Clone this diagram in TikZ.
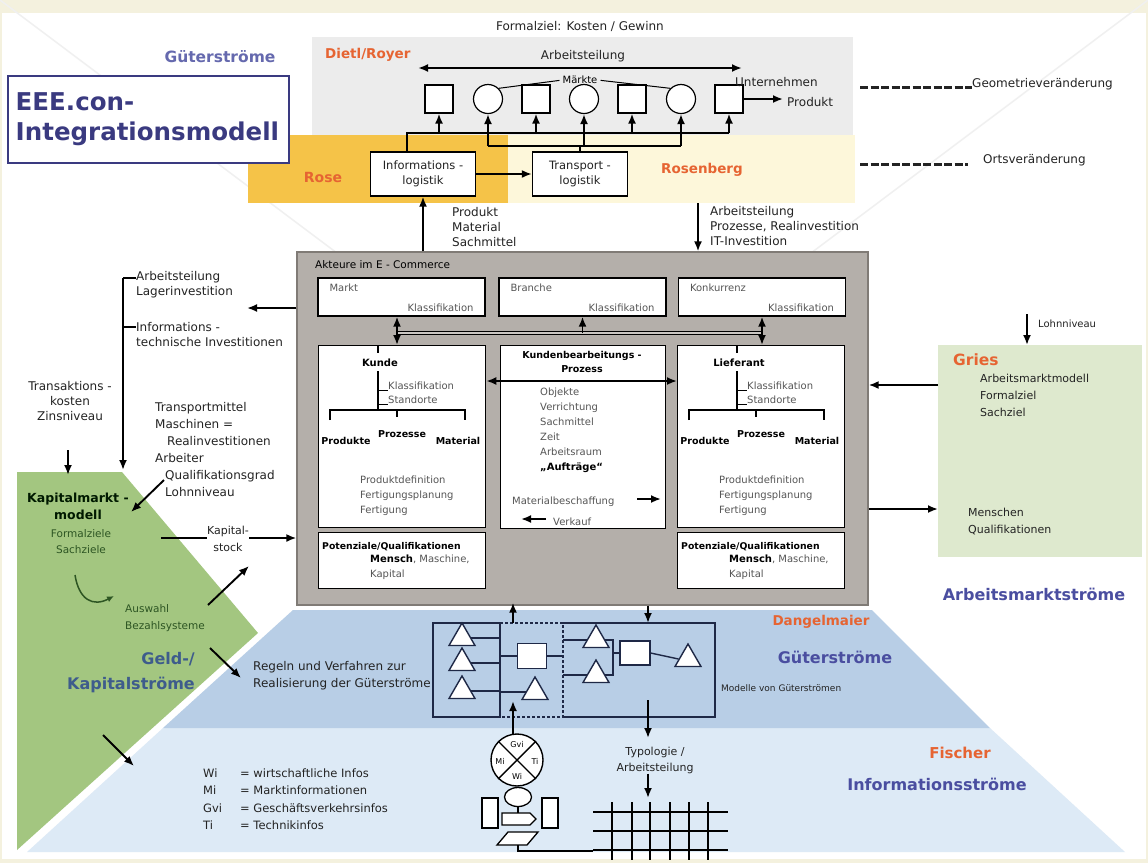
\documentclass[tikz,border=0pt]{standalone}
\usepackage{fontspec}
\setmainfont{DejaVu Sans}
\usetikzlibrary{arrows.meta,positioning,shapes.geometric}
\definecolor{eeecream}{RGB}{244,241,222}
\definecolor{eeegray}{RGB}{236,236,236}
\definecolor{eeeorange}{RGB}{245,195,72}
\definecolor{eeeyellow}{RGB}{253,247,218}
\definecolor{eeebox}{RGB}{180,175,170}
\definecolor{eeeboxline}{RGB}{128,123,118}
\definecolor{eeegreen}{RGB}{163,198,128}
\definecolor{eeelightgreen}{RGB}{222,233,206}
\definecolor{eeeblue}{RGB}{184,206,230}
\definecolor{eeelightblue}{RGB}{221,234,246}
\definecolor{eeestrom}{RGB}{74,78,160}
\definecolor{eeetitle}{RGB}{58,58,128}
\definecolor{eeeautor}{RGB}{230,100,50}
\definecolor{eeegeld}{RGB}{62,92,140}
\definecolor{eeeink}{RGB}{35,35,35}
\definecolor{eeesoft}{RGB}{85,85,85}
\definecolor{eeedark}{RGB}{45,85,35}
\definecolor{eeenavy}{RGB}{30,40,70}

\begin{document}
\begin{tikzpicture}[x=1pt,y=-1pt,
  lbl/.style={font=\fontsize{12}{15}\selectfont,text=eeeink,inner sep=0pt,align=left},
  sml/.style={font=\fontsize{10}{15}\selectfont,text=eeesoft,inner sep=0pt,align=left},
  smb/.style={font=\fontsize{9.5}{14}\selectfont\bfseries,text=black,inner sep=0pt,align=center},
  autor/.style={font=\fontsize{13.5}{16}\selectfont\bfseries,text=eeeautor,inner sep=0pt},
  strom/.style={font=\fontsize{16}{19}\selectfont\bfseries,text=eeestrom,inner sep=0pt},
  wbox/.style={draw=black,line width=1.3pt,fill=white,inner sep=0pt},
  flow/.style={-{Latex[length=10pt,width=8pt]},line width=1.9pt},
  flowtwo/.style={{Latex[length=10pt,width=8pt]}-{Latex[length=10pt,width=8pt]},line width=1.9pt},
  sq/.style={draw,line width=1.2pt,fill=white,minimum size=28pt,inner sep=0pt},
  rnd/.style={draw,circle,line width=1.2pt,fill=white,minimum size=29pt,inner sep=0pt},
  tri/.style={draw=eeenavy,regular polygon,regular polygon sides=3,line width=1.4pt,fill=white,minimum size=30pt,inner sep=0pt},
  sepline/.style={line width=3pt,dash pattern=on 8pt off 2.5pt,eeeink}]
  \useasboundingbox (0,0) rectangle (1148,863);
  % Rahmen
  \fill[eeecream] (0,0) rectangle (1148,863);
  \fill[white] (2,13) rectangle (1146,859);
  \draw[gray!12,line width=1.5pt] (0,0) -- (574,431) -- (1148,0);
  % Flaechen
  \fill[eeegray] (312,37) rectangle (853,135);
  \fill[eeeorange] (248,135) rectangle (508,203);
  \fill[eeeyellow] (508,135) rectangle (855,203);
  \fill[eeelightblue] (163,728) -- (990,728) -- (1125,852) -- (27,852) -- cycle;
  \fill[eeeblue] (293,610) -- (872,610) -- (990,728) -- (163,728) -- cycle;
  \fill[eeegreen] (17,472) -- (122,472) -- (258,633) -- (17,850) -- cycle;
  \fill[eeelightgreen] (938,345) rectangle (1142,557);
  \node[minimum width=204pt,minimum height=212pt,anchor=north west,inner sep=0pt] (gries) at (938,345) {};

  % Titel
  \node[strom,font=\fontsize{15.5}{18}\selectfont\bfseries,text=eeestrom!85!white] (gtop) at (220,57) {Güterströme};
  \node[draw=eeetitle,line width=1.5pt,fill=white,text width=265pt,minimum height=87pt,inner sep=8pt,
        anchor=north west,align=left,font=\fontsize{24.5}{30}\selectfont\bfseries,text=eeetitle] (titel) at (7,75)
        {EEE.con-\\Integrationsmodell};

  % Dietl/Royer
  \node[lbl] (ziel) at (580,26) {Formalziel: Kosten / Gewinn};
  \node[autor,anchor=west] (dietl) at (325,55) {Dietl/Royer};
  \node[lbl] (teilung) at (583,56) {Arbeitsteilung};
  \coordinate (tl) at (418,68);
  \coordinate (tr) at (742,68);
  \draw[flowtwo,line width=2.2pt] (tl) -- (tr);
  \node[sml,text=black] (maerkte) at (580,80) {Märkte};
  \foreach \n/\x in {1/439,3/536,5/632,7/729}
    \node[sq] (s\n) at (\x,99) {};
  \foreach \n/\x in {2/488,4/584,6/681}
    \node[rnd] (s\n) at (\x,99) {};
  \draw[line width=1pt,shorten >=3pt] (s2.north east) -- (maerkte.west);
  \draw[line width=1pt,shorten <=3pt] (maerkte.east) -- (s6.north west);
  \node[lbl,anchor=west] (unt) at (735,82) {Unternehmen};
  \node[lbl,anchor=west] (produkt) at (787,102) {Produkt};
  \draw[flow,shorten >=4pt] (s7.east) -- (s7.east -| produkt.west);

  % Rose / Rosenberg
  \node[autor,font=\fontsize{14}{16}\selectfont\bfseries] (rose) at (323,177) {Rose};
  \node[autor] (rosenberg) at (702,170) {Rosenberg};
  \node[wbox,minimum width=105pt,minimum height=44pt,align=center,font=\fontsize{11.5}{15}\selectfont,text=eeeink] (info) at (423,174) {Informations -\\logistik};
  \node[wbox,minimum width=95pt,minimum height=44pt,align=center,font=\fontsize{11.5}{15}\selectfont,text=eeeink] (trans) at (580,174) {Transport -\\logistik};
  \draw[flow] (info) -- (trans);
  \coordinate (ib) at (407,133);
  \coordinate (tb) at (488,146);
  \draw[line width=1.8pt] (info.north -| ib) -- (ib) -- (s7 |- ib);
  \draw[line width=1.8pt] (s2 |- tb) -- (s6 |- tb);
  \draw[line width=1.8pt] (trans.north) -- (trans.north |- tb);
  \foreach \n in {1,3,5,7}
    \draw[flow] (s\n |- ib) -- (s\n.south);
  \foreach \n in {2,4,6}
    \draw[flow] (s\n |- tb) -- (s\n.south);

  % Trennlinien rechts
  \node[lbl,anchor=west] (geo) at (972,84) {Geometrieveränderung};
  \node[lbl,anchor=west] (ort) at (983,160) {Ortsveränderung};
  \coordinate (geoa) at (860,87);
  \coordinate (orta) at (860,164);
  \draw[sepline] (geoa) -- (geo.west |- geoa);
  \draw[sepline] (orta) -- (968,164);

  % Akteure im E-Commerce
  \node[draw=eeeboxline,fill=eeebox,line width=1.3pt,minimum width=571pt,minimum height=353pt,inner sep=0pt] (akt) at (582.5,428.5) {};
  \node[sml,text=black,font=\fontsize{10.5}{12}\selectfont,anchor=west] (akttit) at (315,265) {Akteure im E - Commerce};
  \draw[flow] (info.south |- akt.north) -- (info.south);
  \coordinate (rb) at (698,203);
  \draw[flow] (rb) -- (rb |- akt.north);
  \node[lbl,anchor=west] (pms) at (452,227) {Produkt\\Material\\Sachmittel};
  \node[lbl,anchor=west] (apr) at (710,226) {Arbeitsteilung\\Prozesse, Realinvestition\\IT-Investition};

  % Markt, Branche, Konkurrenz
  \foreach \b/\x/\t in {markt/401.5/Markt,branche/582.5/Branche,konk/762/Konkurrenz} {
    \node[wbox,minimum width=167pt,minimum height=38pt] (\b) at (\x,297) {};
    \node[sml,anchor=north west] (\b-name) at ([shift={(12,6)}]\b.north west) {\t};
    \node[sml,anchor=south east] (\b-kl) at ([shift={(-12,-5)}]\b.south east) {Klassifikation};
  }
  \coordinate (bl) at (397,333);
  \coordinate (br) at (762,333);
  \draw[line width=1.1pt,double=eeebox!70!white,double distance=2pt] (bl) -- (br);

  % Kunde und Lieferant
  \foreach \b/\x/\t in {kunde/318/Kunde,lief/677/Lieferant} {
    \begin{scope}[shift={(\x,0)}]
      \node[wbox,anchor=north west,minimum width=167pt,minimum height=182pt] (\b) at (0,345) {};
      \node[smb,font=\fontsize{10}{12}\selectfont\bfseries] (\b-name) at (62,363) {\t};
      \draw[line width=1.2pt] (60,345) -- (60,353);
      \draw[line width=1.2pt] (60,371) -- (60,410);
      \draw[line width=1pt] (60,390) -- (70,390) (60,404) -- (70,404);
      \node[sml,anchor=base west] (\b-kl) at (70,389) {Klassifikation};
      \node[sml,anchor=base west] (\b-st) at (70,403) {Standorte};
      \draw[line width=1.6pt] (12,420) -- (12,410) -- (147,410) -- (147,420) (79,410) -- (79,417);
      \node[smb] (\b-pd) at (28,441) {Produkte};
      \node[smb] (\b-pz) at (84,434) {Prozesse};
      \node[smb] (\b-ma) at (140,441) {Material};
      \node[sml,anchor=north west] (\b-fe) at (42,476) {Produktdefinition\\Fertigungsplanung\\Fertigung};
      \node[wbox,anchor=north west,minimum width=167pt,minimum height=56pt] (\b-pot) at (0,532) {};
      \node[smb,font=\fontsize{9.3}{12}\selectfont\bfseries,anchor=base west] (\b-pq) at (4,549) {Potenziale/Qualifikationen};
      \node[sml,anchor=north west] (\b-mm) at (52,555) {\textbf{\color{black}Mensch}, Maschine,\\Kapital};
    \end{scope}
  }
  \draw[flow] (bl) -- (bl |- markt.south);
  \draw[flow] (bl) -- (bl |- kunde.north);
  \draw[flow] (bl -| branche) -- (branche.south);
  \draw[flow] (br) -- (br |- konk.south);
  \draw[flow] (br) -- (br |- lief.north);

  % Kundenbearbeitungsprozess
  \node[wbox,anchor=north west,minimum width=165pt,minimum height=183pt] (proz) at (500,345) {};
  \node[smb] (proztit) at (582,362) {Kundenbearbeitungs -\\Prozess};
  \coordinate (pa) at (0,381);
  \draw[flowtwo] (kunde.east |- pa) -- (lief.west |- pa);
  \node[sml,anchor=north west] (prozlist) at (540,388)
    {Objekte\\Verrichtung\\Sachmittel\\Zeit\\Arbeitsraum\\\textbf{\color{black}„Aufträge“}};
  \node[sml,anchor=west] (mb) at (512,502) {Materialbeschaffung};
  \node[sml,anchor=west] (vk) at (553,522) {Verkauf};
  \coordinate (mr1) at (637,499);
  \coordinate (mr2) at (661,499);
  \coordinate (vl1) at (546,519);
  \coordinate (vl2) at (521,519);
  \draw[flow] (mr1) -- (mr2);
  \draw[flow] (vl1) -- (vl2);

  % linke Seite
  \coordinate (lp) at (247,308);
  \draw[flow] (akt.west |- lp) -- (lp);
  \node[lbl,anchor=west] (arb) at (136,285) {Arbeitsteilung\\Lagerinvestition};
  \node[lbl,anchor=west] (inf) at (136,335) {Informations -\\technische Investitionen};
  \coordinate (bt) at (123,278);
  \coordinate (bb) at (123,470);
  \draw[flow] (bt) -- (bb);
  \draw[line width=1.8pt] (bt) -- (bt -| arb.west);
  \draw[line width=1.8pt] (123,327) -- (inf.west |- 0,327);
  \node[lbl,align=center] (transk) at (70,401) {Transaktions -\\kosten\\Zinsniveau};
  \coordinate (tk0) at (68,450);
  \coordinate (tk1) at (68,475);
  \draw[flow] (tk0) -- (tk1);
  \node[lbl,anchor=north west,font=\fontsize{12}{17}\selectfont] (tmittel) at (155,402)
    {Transportmittel\\Maschinen =\\\hspace*{12pt}Realinvestitionen\\Arbeiter\\\hspace*{10pt}Qualifikationsgrad\\\hspace*{10pt}Lohnniveau};
  \coordinate (qa) at (164,480);
  \coordinate (qb) at (131,512);
  \draw[flow] (qa) -- (qb);

  % Geld-/Kapitalstroeme
  \node[lbl,align=center,font=\fontsize{12.5}{17}\selectfont\bfseries,text=black!90!green] (kmm) at (78,506) {Kapitalmarkt -\\modell};
  \node[sml,align=center,text=eeedark,font=\fontsize{10.5}{16}\selectfont] (kmz) at (81,542) {Formalziele\\Sachziele};
  \node[lbl,align=center,font=\fontsize{11}{17}\selectfont] (kst) at (228,539) {Kapital-\\stock};
  \coordinate (ks0) at (161,538);
  \draw[line width=1.9pt] (ks0) -- (kst.west |- ks0);
  \draw[flow] (kst.east |- ks0) -- (akt.west |- ks0);
  \coordinate (ca) at (75,575);
  \coordinate (cb) at (114,596);
  \draw[-{Latex[length=7pt,width=6pt]},line width=1.5pt,eeedark] (ca) .. controls (79,600) and (93,607) .. (cb);
  \node[sml,anchor=north west,text=eeedark,font=\fontsize{10.5}{17}\selectfont] (ausw) at (125,604) {Auswahl\\Bezahlsysteme};
  \coordinate (a1) at (208,605);
  \coordinate (a2) at (249,566);
  \coordinate (a3) at (210,648);
  \coordinate (a4) at (241,678);
  \coordinate (a5) at (103,735);
  \coordinate (a6) at (134,766);
  \draw[flow] (a1) -- (a2);
  \draw[flow] (a3) -- (a4);
  \draw[flow] (a5) -- (a6);
  \node[strom,text=eeegeld,align=right,font=\fontsize{16}{25}\selectfont\bfseries,anchor=east] (geld) at (195,673) {Geld-/\\Kapitalströme};

  % Dangelmaier
  \node[lbl,anchor=west,font=\fontsize{12}{17}\selectfont] (regeln) at (253,676) {Regeln und Verfahren zur\\Realisierung der Güterströme};
  \node[autor] (dang) at (821,622) {Dangelmaier};
  \node[strom] (gstrom) at (835,657) {Güterströme};
  \node[sml,text=eeeink,font=\fontsize{9}{11}\selectfont,anchor=west] (modelle) at (721,688) {Modelle von Güterströmen};
  \coordinate (dl) at (433,623);
  \coordinate (d1) at (500,623);
  \coordinate (d2) at (563,623);
  \coordinate (dr) at (715,717);
  \draw[eeenavy,line width=1.8pt] (d1) -- (dl) -- (dl |- dr) -- (d1 |- dr) -- (d1);
  \draw[eeenavy,line width=1.8pt] (d2) -- (dr |- d2) -- (dr) -- (d2 |- dr);
  \draw[eeenavy,line width=1.8pt,dash pattern=on 3pt off 2pt] (d1) -- (d2) -- (d2 |- dr) -- (d1 |- dr);
  \foreach \i/\y in {1/638,2/663,3/691}
    \node[tri] (lt\i) at (462,\y) {};
  \foreach \i in {1,2,3}
    \draw[eeenavy,line width=1.4pt] (lt\i.east) -- (lt\i.east -| d1);
  \node[sq,draw=eeenavy,minimum width=29pt,minimum height=25pt] (msq) at (532,656) {};
  \node[tri] (mtri) at (535,692) {};
  \draw[eeenavy,line width=1.4pt] (msq.west -| d1) -- (msq.west) (msq.east) -- (msq.east -| d2);
  \draw[eeenavy,line width=1.4pt] (mtri.west -| d1) -- (mtri.west);
  \node[tri] (rt1) at (596,640) {};
  \node[tri] (rt2) at (596,675) {};
  \node[sq,draw=eeenavy,minimum width=30pt,minimum height=24pt] (rsq) at (635,653) {};
  \node[tri] (rt3) at (688,659) {};
  \coordinate (rj) at (613,653);
  \draw[eeenavy,line width=1.4pt] (rt1.west -| d2) -- (rt1.west) (rt2.west -| d2) -- (rt2.west);
  \draw[eeenavy,line width=1.4pt] (rt1.east) -| (rj) (rt2.east) -| (rj) -- (rsq.west);
  \draw[eeenavy,line width=1.4pt] (rsq.east) -- (rt3.west);
  \coordinate (du) at (513,623);
  \coordinate (dd) at (648,623);
  \draw[flow] (du) -- ([yshift=3pt]du |- akt.south);
  \draw[flow] (dd |- akt.south) -- (dd);

  % Fischer
  \node[autor,font=\fontsize{15}{18}\selectfont\bfseries] (fischer) at (960,753) {Fischer};
  \node[strom] (istrom) at (937,784) {Informationsströme};
  \node[draw,circle,line width=1.4pt,fill=white,minimum size=52pt,inner sep=0pt] (kreis) at (517,760) {};
  \draw[line width=1.4pt] (kreis.north west) -- (kreis.south east) (kreis.north east) -- (kreis.south west);
  \node[font=\fontsize{8}{9}\selectfont,inner sep=0pt] (kgvi) at (517,745) {Gvi};
  \node[font=\fontsize{8}{9}\selectfont,inner sep=0pt] (kmi) at (500,761) {Mi};
  \node[font=\fontsize{8}{9}\selectfont,inner sep=0pt] (kti) at (535,761) {Ti};
  \node[font=\fontsize{8}{9}\selectfont,inner sep=0pt] (kwi) at (517,776) {Wi};
  \coordinate (ku) at (513,735);
  \coordinate (ko) at (513,701);
  \draw[flow] (ku) -- (ko);
  \node[draw,ellipse,line width=1.3pt,fill=white,minimum width=27pt,minimum height=19pt,inner sep=0pt] (oval) at (518,797) {};
  \node[draw,line width=1.3pt,fill=white,minimum width=16pt,minimum height=30pt,inner sep=0pt] (rectl) at (490,813) {};
  \node[draw,line width=1.3pt,fill=white,minimum width=16pt,minimum height=30pt,inner sep=0pt] (rectr) at (550,813) {};
  \draw[line width=1.3pt,fill=white] (502,813) -- (530,813) -- (536,819) -- (530,825) -- (502,825) -- cycle;
  \draw[line width=1.3pt,fill=white] (508,832) -- (538,832) -- (527,845) -- (497,845) -- cycle;
  \draw[line width=1.3pt] (oval.south) -- (518,813);
  \draw[line width=1.3pt] (518,845) -- (518,851) -- (593,851);
  \coordinate (to) at (648,700);
  \coordinate (tu) at (648,738);
  \draw[flow] (to) -- (tu);
  \node[lbl,align=center,font=\fontsize{11}{16}\selectfont] (typ) at (655,760) {Typologie /\\Arbeitsteilung};
  \coordinate (gt) at (648,798);
  \draw[flow] (typ.south -| gt) -- (gt);
  \foreach \y in {812,831,850}
    \draw[line width=1.6pt] (593,\y) -- (728,\y);
  \foreach \x in {612,632,650,670,689,708}
    \draw[line width=1.6pt] (\x,802) -- (\x,860);

  % Legende
  \foreach \i/\a/\t in {0/Wi/wirtschaftliche Infos,1/Mi/Marktinformationen,2/Gvi/Geschäftsverkehrsinfos,3/Ti/Technikinfos} {
    \node[lbl,font=\fontsize{11.5}{14}\selectfont,anchor=base west] (lega\i) at (203,{777+17.5*\i}) {\a};
    \node[lbl,font=\fontsize{11.5}{14}\selectfont,anchor=base west] (legt\i) at (240,{777+17.5*\i}) {= \t};
  }

  % Gries
  \node[autor,font=\fontsize{15.5}{18}\selectfont\bfseries,anchor=west] (griesname) at (953,360) {Gries};
  \node[lbl,anchor=north west,font=\fontsize{11}{17}\selectfont] (griesm) at (980,374) {Arbeitsmarktmodell\\Formalziel\\Sachziel};
  \node[lbl,anchor=north west,font=\fontsize{11}{17}\selectfont] (griesq) at (968,508) {Menschen\\Qualifikationen};
  \coordinate (gl) at (0,385);
  \coordinate (gm) at (0,509);
  \draw[flow] (gries.west |- gl) -- (akt.east |- gl);
  \draw[flow] (akt.east |- gm) -- (gries.west |- gm);
  \node[sml,text=eeeink,anchor=west] (lohn) at (1038,324) {Lohnniveau};
  \coordinate (lo) at (1027,314);
  \draw[flow] (lo) -- (lo |- gries.north);
  \node[strom] (astrom) at (1034,594) {Arbeitsmarktströme};
\end{tikzpicture}
\end{document}
